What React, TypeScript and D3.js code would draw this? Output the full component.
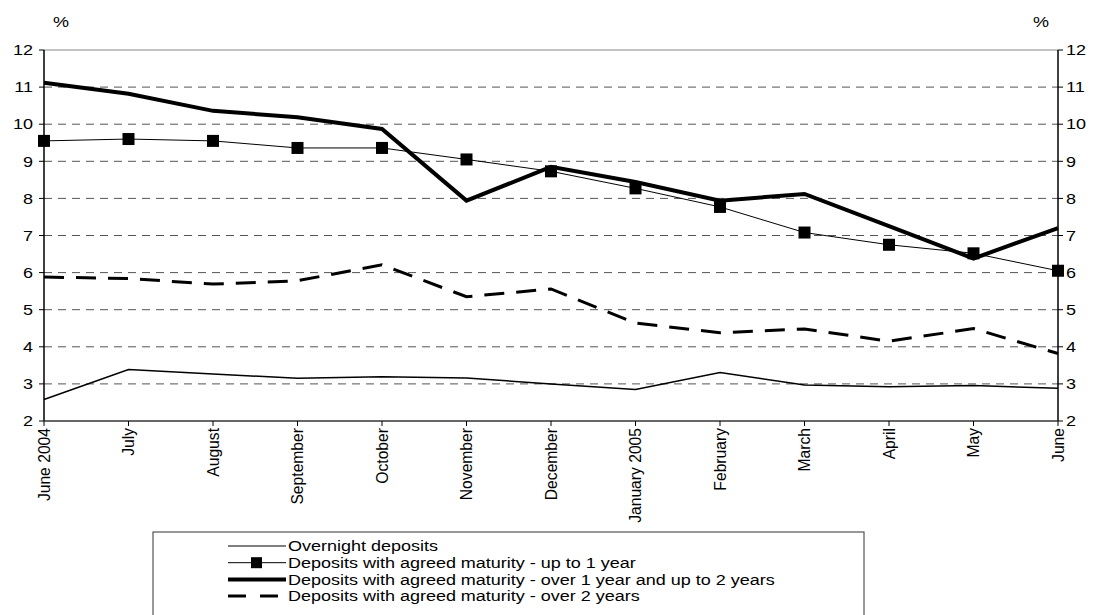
import React from "react";
import * as d3 from "d3";

const categories = ["June 2004", "July", "August", "September", "October", "November", "December", "January 2005", "February", "March", "April", "May", "June"];
const overnight = [2.58, 3.39, 3.27, 3.15, 3.19, 3.16, 3.0, 2.85, 3.31, 2.97, 2.92, 2.96, 2.88];
const upTo1Year = [9.55, 9.6, 9.55, 9.36, 9.36, 9.05, 8.73, 8.27, 7.77, 7.08, 6.75, 6.52, 6.05];
const over1to2Years = [11.12, 10.82, 10.36, 10.19, 9.87, 7.94, 8.85, 8.44, 7.94, 8.12, 7.25, 6.38, 7.2];
const over2Years = [5.88, 5.84, 5.69, 5.78, 6.21, 5.35, 5.56, 4.64, 4.38, 4.48, 4.15, 4.49, 3.82];
const yTicks = [2, 3, 4, 5, 6, 7, 8, 9, 10, 11, 12];
const legendLabels = [
  "Overnight deposits",
  "Deposits with agreed maturity - up to 1 year",
  "Deposits with agreed maturity - over 1 year and up to 2 years",
  "Deposits with agreed maturity - over 2 years",
];

export default function App() {
  const W = 1095, H = 615;
  const left = 44, right = 1058, top = 50, bottom = 421;
  const x = d3.scalePoint<string>().domain(categories).range([left, right]);
  const y = d3.scaleLinear().domain([2, 12]).range([bottom, top]);
  const line = (vals: number[]) =>
    d3.line<number>().x((_, i) => x(categories[i]) as number).y((v) => y(v))(vals) || "";
  const font = "Arial, 'Liberation Sans', sans-serif";
  const sx = 1.2;
  return (
    <svg width={W} height={H} style={{ position: "absolute", left: 0, top: 0, background: "#fff" }} fontFamily={font}>
      {/* gridlines */}
      {yTicks.map((t) =>
        t === 2 ? null : (
          <line key={"g" + t} x1={left} x2={right} y1={y(t)} y2={y(t)} stroke={t === 12 ? "#888" : "#555"} strokeWidth={1} strokeDasharray={t === 12 ? undefined : "8,6"} />
        )
      )}
      {/* axes */}
      <line x1={left} x2={left} y1={top} y2={bottom} stroke="#000" strokeWidth={1.5} />
      <line x1={right} x2={right} y1={top} y2={bottom} stroke="#000" strokeWidth={1.5} />
      <line x1={left} x2={right} y1={bottom} y2={bottom} stroke="#333" strokeWidth={1.5} />
      {yTicks.map((t) => (
        <g key={"t" + t}>
          <line x1={left - 5} x2={left} y1={y(t)} y2={y(t)} stroke="#000" />
          <line x1={right} x2={right + 5} y1={y(t)} y2={y(t)} stroke="#000" />
          <text transform={`translate(33,${y(t)}) scale(${sx},1)`} dy="0.35em" textAnchor="end" fontSize={15}>{t}</text>
          <text transform={`translate(1066,${y(t)}) scale(${sx},1)`} dy="0.35em" textAnchor="start" fontSize={15}>{t}</text>
        </g>
      ))}
      <text transform={`translate(61,27) scale(${sx},1)`} textAnchor="middle" fontSize={15}>%</text>
      <text transform={`translate(1041,27) scale(${sx},1)`} textAnchor="middle" fontSize={15}>%</text>
      {categories.map((c) => {
        const cx = x(c) as number;
        return (
          <g key={"x" + c}>
            <line x1={cx} x2={cx} y1={bottom} y2={bottom + 5} stroke="#000" />
            <text transform={`translate(${cx},${bottom + 7}) rotate(-90) scale(1.08,1.1)`} textAnchor="end" dy="0.35em" fontSize={14.5}>{c}</text>
          </g>
        );
      })}
      {/* series */}
      <path d={line(overnight)} fill="none" stroke="#000" strokeWidth={1.5} />
      <path d={line(upTo1Year)} fill="none" stroke="#000" strokeWidth={1} />
      {upTo1Year.map((v, i) => (
        <rect key={"m" + i} x={(x(categories[i]) as number) - 6} y={y(v) - 6} width={12} height={12} fill="#000" />
      ))}
      <path d={line(over1to2Years)} fill="none" stroke="#000" strokeWidth={4} />
      <path d={line(over2Years)} fill="none" stroke="#000" strokeWidth={3} strokeDasharray="20,12" />
      {/* legend */}
      <rect x={153} y={532} width={711} height={100} fill="#fff" stroke="#333" strokeWidth={1} />
      {legendLabels.map((lab, i) => {
        const ly = 546 + i * 16.7;
        return (
          <g key={"l" + i}>
            {i === 0 && <line x1={228} x2={286} y1={ly} y2={ly} stroke="#000" strokeWidth={1.2} />}
            {i === 1 && (
              <>
                <line x1={228} x2={286} y1={ly} y2={ly} stroke="#000" strokeWidth={1} />
                <rect x={251} y={ly - 5.5} width={11} height={11} fill="#000" />
              </>
            )}
            {i === 2 && <line x1={228} x2={286} y1={ly} y2={ly} stroke="#000" strokeWidth={4} />}
            {i === 3 && <line x1={228} x2={286} y1={ly} y2={ly} stroke="#000" strokeWidth={3} strokeDasharray="18,14" />}
            <text transform={`translate(288,${ly}) scale(${sx},1)`} dy="0.35em" fontSize={15}>{lab}</text>
          </g>
        );
      })}
    </svg>
  );
}
